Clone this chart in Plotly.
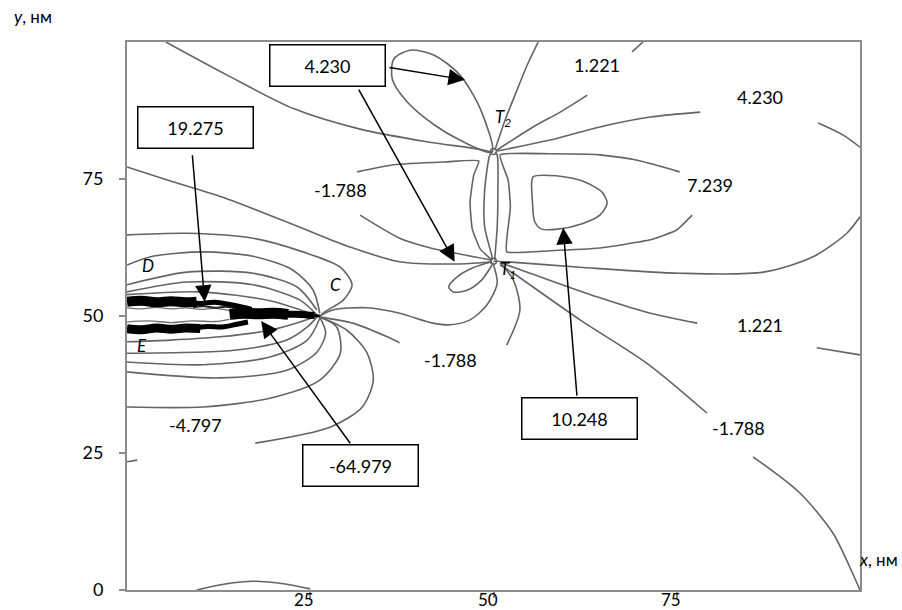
import plotly.graph_objects as go

# ---------------- data (x, y in nm) ----------------
x_ticks = [25, 50, 75]
y_ticks = [0, 25, 50, 75]

# dislocation cores
core_x = [50.0, 50.0]
core_y = [60.0, 80.0]

# long line from the top edge to T2
l1_x = [5.3, 13.6, 22.8, 31.8, 40.9, 47.7, 49.8]
l1_y = [100, 94.0, 87.8, 84.1, 81.8, 80.5, 79.9]
# 4.230 lobe at T2
lobe423_x = [49.8, 48.2, 45.4, 41.9, 38.6, 36.4, 36.2, 38.2, 41.9, 45.4, 49.8]
lobe423_y = [79.9, 87.8, 94.0, 97.6, 98.5, 96.9, 93.2, 89.1, 84.9, 82.1, 79.9]
# T2 -> top edge
t2top_x = [50.2, 51.6, 53.2, 54.6, 56.1]
t2top_y = [80.3, 85.8, 91.2, 95.8, 100]
# T2 -> 1.221 (upper)
t2a_x = [50.5, 55.4, 59.1, 62.8]
t2a_y = [80.3, 84.5, 87.2, 90.3]
t2b_x = [68.9, 70.4]
t2b_y = [98.2, 100]
# T2 -> 4.230 (right)
t2c_x = [50.5, 57.7, 64.5, 71.4, 78.2]
t2c_y = [80.1, 82.1, 84.5, 86.3, 87.2]
t2d_x = [94.3, 97.7, 100]
t2d_y = [85.2, 83.0, 80.8]
# 7.239 lobe between T2 and T1
lobe7_x = [75.4, 73.1, 69.0, 64.5, 57.7, 50.9, 52.0, 52.3, 51.8, 51.8, 57.7, 64.5, 71.4, 75.0, 77.1]
lobe7_y = [76.3, 77.2, 78.6, 79.4, 79.6, 79.4, 74.8, 69.9, 63.9, 61.7, 61.9, 62.4, 63.9, 65.7, 68.4]
# 10.248 closed loop
loop10_x = [55.4, 58.5, 62.2, 64.8, 65.5, 64.5, 62.0, 58.5, 56.5, 55.6, 55.3, 55.2, 55.4]
loop10_y = [75.4, 75.6, 74.6, 72.6, 70.6, 68.4, 66.8, 65.8, 65.9, 67.3, 71.2, 74.3, 75.4]
# -1.788 lobe (upper left of T1)
neg_up_x = [31.4, 36.4, 43.2, 48.0, 47.3, 46.8, 47.1, 48.2, 49.8]
neg_up_y = [76.3, 77.6, 78.1, 78.3, 75.7, 70.8, 65.9, 62.2, 60.2]
neg_lo_x = [31.8, 37.2, 40.9, 45.4, 49.8]
neg_lo_y = [68.4, 64.2, 62.6, 61.3, 60.2]
# vertical lines T2 - T1
vl_x = [49.8, 49.5, 48.8, 48.8, 49.8, 49.8]
vl_y = [79.9, 79.4, 73.0, 66.2, 60.8, 60.2]
vr_x = [50.2, 50.5, 50.6, 50.5, 50.2, 50.2]
vr_y = [79.9, 79.4, 73.0, 66.2, 60.8, 60.2]
# long line from left edge to T1
long_x = [0, 5.5, 13.6, 23.6, 30.4, 37.2, 45.4, 49.8]
long_y = [77.2, 74.8, 71.4, 66.2, 62.6, 59.9, 59.5, 59.9]
# T1 -> right edge
t1r_x = [50.0, 51.8, 61.8, 75.4, 86.8, 93.6, 98.2, 100]
t1r_y = [60.0, 59.9, 58.9, 57.8, 58.0, 60.8, 65.1, 68.1]
# T1 -> 1.221 (right)
t1a_x = [50.9, 52.7, 64.1, 70.9, 77.8]
t1a_y = [59.7, 58.9, 53.5, 50.7, 48.7]
t1b_x = [94.1, 100]
t1b_y = [44.2, 42.9]
# T1 -> -1.788 -> corner
t1c_x = [50.9, 52.7, 61.8, 70.9, 79.1]
t1c_y = [59.3, 57.8, 49.3, 41.4, 32.3]
t1d_x = [85.4, 91.8, 96.3, 98.6, 100]
t1d_y = [24.3, 17.7, 10.4, 4.2, 0]
# small lobe at T1
small_x = [49.8, 47.2, 45.0, 43.9, 44.5, 46.4, 48.4, 49.8]
small_y = [59.9, 58.8, 57.1, 55.3, 54.4, 54.7, 56.6, 59.3]
# C -> T1 lobe
ct_x = [26.3, 28.1, 32.7, 37.2, 41.7, 44.1, 46.8, 49.1, 50.5, 49.9]
ct_y = [50.0, 51.1, 51.5, 50.5, 48.7, 48.4, 49.3, 52.0, 56.0, 59.7]
# C -> -1.788 -> T1
cn_a_x = [26.3, 30.8, 35.5, 37.2]
cn_a_y = [49.8, 48.7, 46.2, 45.1]
cn_b_x = [51.8, 53.6, 52.7, 50.9]
cn_b_y = [44.7, 51.1, 56.6, 59.7]
# contour lines above the crack
u0_x = [0, 8.2, 17.2, 24.0, 29.1, 30.7, 29.5, 26.7, 26.3]
u0_y = [64.8, 65.1, 64.2, 61.7, 58.9, 55.7, 52.9, 50.5, 49.8]
u1_x = [0, 3.5, 10.4, 17.2, 22.6, 25.4, 26.3]
u1_y = [59.3, 60.9, 61.7, 60.9, 58.4, 54.7, 50.5]
u2_x = [0, 8.2, 17.2, 23.2, 25.9]
u2_y = [55.7, 58.0, 57.8, 55.3, 51.1]
u3_x = [0, 8.2, 17.2, 23.6, 25.9]
u3_y = [54.4, 56.2, 55.7, 52.9, 50.2]
u4_x = [0, 10.0, 19.5, 25.0]
u4_y = [53.9, 54.4, 52.8, 50.5]
# contour lines below the crack
b1_x = [0, 5.9, 12.7, 19.5, 23.6, 25.9]
b1_y = [45.3, 45.6, 46.2, 47.4, 48.9, 50.0]
b2_x = [0, 15.0, 21.8, 24.6, 25.9]
b2_y = [43.2, 43.8, 45.6, 48.0, 49.8]
b3_x = [0, 10.4, 19.5, 24.6, 26.3]
b3_y = [41.6, 41.1, 42.5, 45.6, 49.6]
b4_x = [0, 12.7, 21.8, 25.9, 27.1, 26.3]
b4_y = [39.8, 38.7, 40.1, 43.4, 46.9, 49.8]
b5_x = [0, 10.4, 19.5, 26.3, 29.1, 28.6, 26.3]
b5_y = [33.4, 33.4, 35.0, 38.3, 43.2, 48.0, 49.8]
# -4.797 line
m4_a_x = [26.3, 30.0, 32.7, 33.6, 32.1, 27.7, 17.5]
m4_a_y = [49.8, 47.4, 43.4, 38.3, 33.4, 29.7, 26.8]
m4_b_x = [1.4, 0]
m4_b_y = [23.7, 23.4]
# small arc at the bottom edge
arc_x = [9.5, 13.4, 17.2, 21.6, 25.0]
arc_y = [0, 1.1, 1.6, 1.1, 0.2]

# crack faces D-C and E-C (dense black contour bundles)
crack_up1_x = [0, 2, 4, 6, 8, 9.5]
crack_up1_y = [52.6, 52.8, 52.5, 52.7, 52.5, 52.6]
crack_up2_x = [8, 10, 12, 14, 15.5, 17]
crack_up2_y = [52.5, 52.3, 52.5, 52.1, 51.7, 51.2]
crack_lo1_x = [0, 2, 4, 6, 8, 10]
crack_lo1_y = [47.7, 47.5, 47.8, 47.6, 47.8, 47.7]
crack_lo2_x = [9, 11, 13, 15, 16.5]
crack_lo2_y = [47.8, 48.1, 48.0, 48.5, 48.9]
crack_tip1_x = [14, 16, 18, 20, 22]
crack_tip1_y = [50.3, 50.5, 50.4, 50.5, 50.3]
crack_tip2_x = [21.5, 23, 24.5, 25.6]
crack_tip2_y = [50.3, 50.3, 50.2, 50.1]
crack_tip3_x = [25.3, 26.3]
crack_tip3_y = [50.1, 50.0]
noise1_x = [0, 2, 4, 6, 8, 10, 12, 14]
noise1_y = [51.5, 51.3, 51.6, 51.3, 51.5, 51.2, 51.4, 51.0]
noise2_x = [0, 3, 6, 9, 12, 14]
noise2_y = [48.9, 49.1, 48.8, 49.1, 49.0, 49.4]
noise3_x = [9, 10.5, 12, 13.5, 15]
noise3_y = [51.6, 51.8, 51.5, 51.7, 51.4]

# plain contour labels
lab_text = ["1.221", "4.230", "-1.788", "7.239", "1.221", "-1.788", "-1.788", "-4.797"]
lab_x = [64.1, 86.4, 29.1, 79.5, 86.4, 44.1, 83.4, 9.4]
lab_y = [95.8, 90.0, 73.0, 73.9, 48.4, 42.0, 29.6, 30.1]
# point letters
pt_text = ["<i>D</i>", "<i>C</i>", "<i>E</i>", "<i>T<sub>2</sub></i>", "<i>T<sub>1</sub></i>"]
pt_x = [2.9, 28.4, 2.0, 51.3, 52.0]
pt_y = [59.3, 55.7, 44.7, 86.1, 58.4]
# boxed values
box_text = ["4.230", "19.275", "-64.979", "10.248"]
box_x = [27.3, 9.4, 31.8, 61.8]
box_y = [95.4, 84.1, 22.4, 31.0]
# arrows: tail -> tip
arr_tail_x = [35.6, 31.5, 8.9, 30.6, 61.4]
arr_tail_y = [95.4, 91.6, 79.6, 26.5, 35.2]
arr_tip_x = [46.1, 44.7, 10.6, 18.3, 59.5]
arr_tip_y = [93.1, 59.9, 52.6, 49.1, 66.1]

# ---------------- figure ----------------
GREY = "rgb(100,100,100)"
FONT = "Lato"

spline_lines = [
    (l1_x, l1_y), (lobe423_x, lobe423_y), (t2top_x, t2top_y), (t2a_x, t2a_y), (t2b_x, t2b_y),
    (t2c_x, t2c_y), (t2d_x, t2d_y), (loop10_x, loop10_y), (neg_lo_x, neg_lo_y),
    (vl_x, vl_y), (vr_x, vr_y), (long_x, long_y), (t1r_x, t1r_y), (t1a_x, t1a_y), (t1b_x, t1b_y),
    (t1c_x, t1c_y), (t1d_x, t1d_y), (small_x, small_y), (ct_x, ct_y), (cn_a_x, cn_a_y),
    (cn_b_x, cn_b_y), (u0_x, u0_y), (u1_x, u1_y), (u2_x, u2_y), (u3_x, u3_y), (u4_x, u4_y),
    (b1_x, b1_y), (b2_x, b2_y), (b3_x, b3_y), (b4_x, b4_y), (b5_x, b5_y),
    (m4_a_x, m4_a_y), (m4_b_x, m4_b_y), (arc_x, arc_y),
]
corner_lines = [(lobe7_x, lobe7_y), (neg_up_x, neg_up_y)]

fig = go.Figure()
for xs, ys in spline_lines:
    fig.add_trace(go.Scatter(x=xs, y=ys, mode="lines", hoverinfo="skip",
                             line=dict(color=GREY, width=1.6, shape="spline", smoothing=0.8)))
for xs, ys in corner_lines:
    fig.add_trace(go.Scatter(x=xs, y=ys, mode="lines", hoverinfo="skip",
                             line=dict(color=GREY, width=1.6, shape="spline", smoothing=0.4)))

# crack texture
for xs, ys, c, w in [(noise1_x, noise1_y, "rgb(110,110,110)", 1.3),
                     (noise2_x, noise2_y, "rgb(110,110,110)", 1.3),
                     (noise3_x, noise3_y, "rgb(40,40,40)", 2)]:
    fig.add_trace(go.Scatter(x=xs, y=ys, mode="lines", hoverinfo="skip",
                             line=dict(color=c, width=w, shape="spline")))
for xs, ys, w in [(crack_up1_x, crack_up1_y, 10), (crack_up2_x, crack_up2_y, 5),
                  (crack_lo1_x, crack_lo1_y, 9), (crack_lo2_x, crack_lo2_y, 5),
                  (crack_tip1_x, crack_tip1_y, 11), (crack_tip2_x, crack_tip2_y, 7),
                  (crack_tip3_x, crack_tip3_y, 3)]:
    fig.add_trace(go.Scatter(x=xs, y=ys, mode="lines", hoverinfo="skip",
                             line=dict(color="black", width=w, shape="spline")))

# dislocation cores
fig.add_trace(go.Scatter(x=core_x, y=core_y, mode="markers", hoverinfo="skip",
                         marker=dict(symbol="circle-open", size=6, color=GREY, line=dict(width=1.5))))

ann = []
for t, x, y in zip(lab_text, lab_x, lab_y):
    ann.append(dict(x=x, y=y, xref="x", yref="y", text=t, showarrow=False,
                    font=dict(family=FONT, size=18, color="black")))
for t, x, y in zip(pt_text, pt_x, pt_y):
    ann.append(dict(x=x, y=y, xref="x", yref="y", text=t, showarrow=False,
                    font=dict(family=FONT, size=17, color="black")))
for tx, ty, hx, hy in zip(arr_tail_x, arr_tail_y, arr_tip_x, arr_tip_y):
    ann.append(dict(x=hx, y=hy, xref="x", yref="y", ax=tx, ay=ty, axref="x", ayref="y",
                    text="", showarrow=True, arrowhead=2, arrowsize=2.2, arrowwidth=1.5,
                    arrowcolor="black", standoff=0, startstandoff=0))
for t, x, y in zip(box_text, box_x, box_y):
    ann.append(dict(x=x, y=y, xref="x", yref="y", text=t, showarrow=False,
                    width=110, height=36, borderpad=2, borderwidth=1.5,
                    bordercolor="black", bgcolor="white", valign="middle", yshift=2,
                    font=dict(family=FONT, size=18, color="black")))
# x tick labels (drawn slightly left of their ticks as in the reference)
for v in x_ticks:
    ann.append(dict(x=v, y=0, xref="x", yref="y", text=str(v), showarrow=False,
                    yanchor="middle", yshift=-9, xshift=-6,
                    font=dict(family=FONT, size=17, color="black")))
ann.append(dict(x=-0.157, y=1.046, xref="paper", yref="paper", xanchor="left", yanchor="middle",
                text="<i>y</i>, нм", showarrow=False, font=dict(family=FONT, size=17, color="black")))
ann.append(dict(x=1.0545, y=0.055, xref="paper", yref="paper", xanchor="right", yanchor="middle",
                text="<i>x</i>, нм", showarrow=False, font=dict(family=FONT, size=17, color="black")))

axis_common = dict(showline=True, linecolor="rgb(140,140,140)", linewidth=2, mirror=True,
                   ticks="outside", ticklen=6, tickwidth=2, tickcolor="rgb(140,140,140)",
                   showgrid=False, zeroline=False, automargin=False,
                   tickfont=dict(family=FONT, size=18, color="black"))

fig.update_layout(
    width=902, height=610,
    margin=dict(l=127, r=42, t=42, b=20),
    paper_bgcolor="white", plot_bgcolor="white",
    showlegend=False,
    annotations=ann,
    xaxis=dict(range=[0, 100], tickvals=x_ticks, showticklabels=False, **axis_common),
    yaxis=dict(range=[0, 100], tickvals=y_ticks, ticktext=[str(v) for v in y_ticks],
               ticklabelstandoff=12, **axis_common),
)

fig.write_html("out.html", config={"displayModeBar": False},
               post_script="document.body.style.margin='0';document.body.style.overflow='hidden';")
